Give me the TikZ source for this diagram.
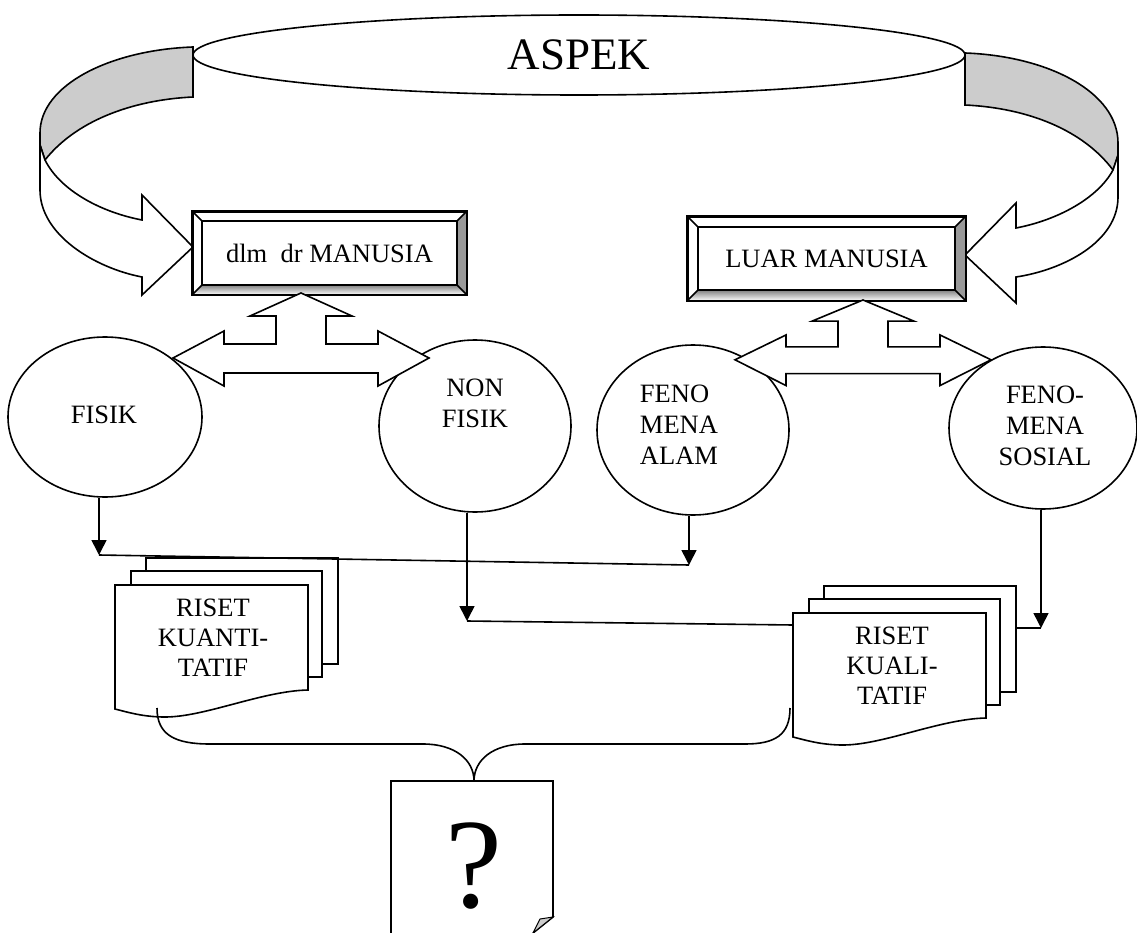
\documentclass[tikz,border=0pt]{standalone}
\usepackage{fontspec}
\setmainfont{Liberation Serif}
\usepackage{tikz}
\usetikzlibrary{shapes.geometric, arrows.meta, calc}

\definecolor{shade}{HTML}{CCCCCC}
\definecolor{darkshade}{HTML}{999999}

\tikzset{
  pics/docstack/.style={code={
    \draw[page] (31,-27) rectangle (223,79);
    \draw[page] (16,-14) rectangle (207,92);
    \draw[page] (0,0) -- (193,0) -- (193,105) .. controls (147,106) and (90,132) .. (50,132) .. controls (28,132) and (12,127) .. (0,124) -- cycle;
    \coordinate (-w) at (0,12);
    \coordinate (-e) at (223,15);
  }},
  pics/splitarrow/.style={code={
    \draw[fatarrow] (0,0) -- (51,23) -- (25,23) -- (25,51) -- (77,51) -- (77,38) -- (128,65) -- (77,93) -- (77,80)
      -- (-77,80) -- (-77,93) -- (-128,65) -- (-77,38) -- (-77,51) -- (-25,51) -- (-25,23) -- (-51,23) -- cycle;
  }}
}

% bevelled frame round a box node
\newcommand{\bevelbox}[2]{%
  \fill[shade] (#1.south west) -- (#1.south east) -- ($(#1.south east)+(-#2,-#2)$) -- ($(#1.south west)+(#2,-#2)$) -- cycle;
  \fill[darkshade] (#1.south east) -- (#1.north east) -- ($(#1.north east)+(-#2,#2)$) -- ($(#1.south east)+(-#2,-#2)$) -- cycle;
  \draw ($(#1.north west)+(#2,#2)$) rectangle ($(#1.south east)+(-#2,-#2)$);
  \draw (#1.north west) -- ++(#2,#2);
  \draw (#1.north east) -- ++(-#2,#2);
  \draw (#1.south east) -- ++(-#2,-#2);
  \draw (#1.south west) -- ++(#2,-#2);
  \draw (#1.south west) rectangle (#1.north east);
}

\begin{document}
\begin{tikzpicture}[x=1pt, y=-1pt, line width=1.6pt, line join=miter,
    txt/.style={font=\fontsize{26.5}{31}\selectfont, align=center, inner sep=0pt},
    circ/.style={draw, ellipse, fill=white, inner sep=0pt},
    box/.style={draw, rectangle, fill=white, font=\fontsize{26.5}{31}\selectfont},
    page/.style={draw, fill=white},
    fatarrow/.style={draw, fill=white},
    conn/.style={-{Triangle[width=15pt,length=15pt]}}]

    \useasboundingbox (0,0) rectangle (1137,933);

    % Left curved band
    \filldraw[fill=shade] (193,47) .. controls (110,50) and (40,85) .. (40,133) -- (40,145) -- (45,160)
        .. controls (75,122) and (130,100) .. (193,97) -- cycle;
    \filldraw[fill=white] (40,133) -- (40,190) .. controls (40,235) and (95,268) .. (142,277) -- (142,295)
        -- (193,247) -- (142,195) -- (142,220) .. controls (100,212) and (60,190) .. (45,160) -- (40,145) -- cycle;

    % Right curved band
    \filldraw[fill=shade] (965,53) .. controls (1048,56) and (1118,92) .. (1118,143) -- (1118,155) -- (1113,170)
        .. controls (1083,130) and (1028,108) .. (965,105) -- cycle;
    \filldraw[fill=white] (1118,143) -- (1118,197) .. controls (1118,242) and (1063,270) .. (1016,277) -- (1016,303)
        -- (965,255) -- (1016,203) -- (1016,228) .. controls (1058,220) and (1098,198) .. (1113,170) -- (1118,155) -- cycle;

    % Top ellipse
    \node[circ, minimum width=772pt, minimum height=80pt, font=\fontsize{45}{50}\selectfont] (aspek) at (579,55) {ASPEK};

    % Boxes
    \node[box, minimum width=273pt, minimum height=82pt] (dalam) at (329.5,253) {dlm\ \ dr MANUSIA};
    \bevelbox{dalam}{10}
    \node[box, minimum width=277pt, minimum height=83pt] (luar) at (826.5,258.5) {LUAR MANUSIA};
    \bevelbox{luar}{11}

    % Circles
    \node[circ, minimum width=194pt, minimum height=160pt] (fisik) at (105,417) {};
    \node[txt] (fisiklbl) at (104,415) {FISIK};
    \node[circ, minimum width=192pt, minimum height=172pt] (nonfisik) at (475,426) {};
    \node[txt] (nonfisiklbl) at (475,403) {NON\\FISIK};
    \node[circ, minimum width=192pt, minimum height=170pt] (alam) at (693,430) {};
    \node[txt, align=left] (alamlbl) at (679,425) {FENO\\MENA\\ALAM};
    \node[circ, minimum width=188pt, minimum height=162pt] (sosial) at (1043,428) {};
    \node[txt] (sosiallbl) at (1045,426) {FENO-\\MENA\\SOSIAL};

    % Split arrows under the boxes
    \pic (dalamarrow) at (301,293) {splitarrow};
    \pic[yscale=0.92] (luararrow) at (863,300) {splitarrow};

    % Document stacks
    \pic (kuan) at (115,585) {docstack};
    \node[txt, font=\fontsize{26.5}{30}\selectfont] (kuanlbl) at (213,638) {RISET\\KUANTI-\\TATIF};
    \pic (kual) at (793,613) {docstack};
    \node[txt, font=\fontsize{26.5}{30}\selectfont] (kuallbl) at (892,666) {RISET\\KUALI-\\TATIF};

    % Connectors
    \coordinate (j1) at (99,555);
    \coordinate (j2) at (689,565);
    \coordinate (j3) at (467,621);
    \coordinate (j4) at (1041,628);
    \draw[conn] (fisik.south -| j1) -- (j1);
    \draw[conn] (alam.south -| j2) -- (j2);
    \draw (j1) -- (j2);
    \draw[conn] (nonfisik.south -| j3) -- (j3);
    \draw (j3) -- (kual-w);
    \draw[conn] (sosial.south -| j4) -- (j4);
    \draw (j4) -- (kual-e);

    % Question page
    \draw[page] (391,933) -- (391,781) -- (553,781) -- (553,917) -- (533,933);
    \filldraw[fill=shade, line width=1pt] (553,917) -- (540,919) -- (533,933) -- cycle;
    \node[inner sep=0pt, font=\fontsize{128}{130}\selectfont] (quest) at (474,866) {?};

    % Brace
    \coordinate (qtop) at (474,781);
    \coordinate (b1) at (157,708);
    \coordinate (b2) at (790,708);
    \draw (b1) .. controls (157,735) and (175,744) .. (210,744) -- (423,744) .. controls (455,744) and (474,760) .. (qtop);
    \draw (b2) .. controls (790,735) and (775,744) .. (745,744) -- (525,744) .. controls (493,744) and (474,760) .. (qtop);

\end{tikzpicture}
\end{document}
